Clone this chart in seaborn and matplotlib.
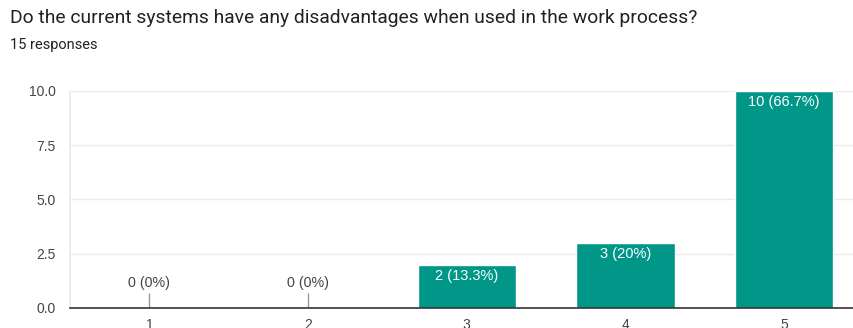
import matplotlib
matplotlib.use("Agg")
import matplotlib.pyplot as plt
import seaborn as sns
import pandas as pd

categories = ["1", "2", "3", "4", "5"]
counts = [0, 0, 2, 3, 10]
labels = ["0 (0%)", "0 (0%)", "2 (13.3%)", "3 (20%)", "10 (66.7%)"]
yticks = [0.0, 2.5, 5.0, 7.5, 10.0]

title = "Do the current systems have any disadvantages when used in the work process?"
subtitle = "15 responses"

sns.set_theme(style="white")
plt.rcParams["font.family"] = ["Liberation Sans", "DejaVu Sans"]

df = pd.DataFrame({"answer": categories, "count": counts})

fig = plt.figure(figsize=(8.54, 3.28), dpi=100)
ax = fig.add_axes([0.082, 0.061, 0.929, 0.662])

sns.barplot(data=df, x="answer", y="count", color="#009688", saturation=1,
            width=0.62, ax=ax)

ax.set_ylim(0, 10)
ax.set_yticks(yticks)
ax.set_yticklabels([f"{v:.1f}" for v in yticks])
ax.set_xlim(-0.5, len(categories) - 0.5)
ax.set_xlabel("")
ax.set_ylabel("")
ax.yaxis.grid(True, color="#ebebeb", linewidth=1)
ax.set_axisbelow(True)
for side in ["top", "right"]:
    ax.spines[side].set_visible(False)
ax.spines["left"].set_color("#ebebeb")
ax.spines["bottom"].set_color("#333333")
ax.spines["bottom"].set_linewidth(1.2)
ax.tick_params(axis="both", length=0, labelsize=10, labelcolor="#444444")
ax.tick_params(axis="y", pad=10.5)
ax.tick_params(axis="x", pad=7)

for i, (v, lab) in enumerate(zip(counts, labels)):
    if v == 0:
        ax.vlines(i, 0, 0.7, color="#999999", linewidth=1)
        ax.text(i, 0.85, lab, ha="center", va="bottom", fontsize=10.3, color="#444444")
    else:
        ax.text(i, v - 0.2, lab, ha="center", va="top", fontsize=10.5, color="white")

fig.text(10 / 854, 1 - 18 / 328, title, fontsize=13.9, color="#202124",
         va="center", ha="left", family=["Roboto", "DejaVu Sans"])
fig.text(10 / 854, 1 - 45 / 328, subtitle, fontsize=10.5, color="#202124",
         va="center", ha="left", family=["Roboto", "DejaVu Sans"])

fig.savefig("out.png", dpi=100)
